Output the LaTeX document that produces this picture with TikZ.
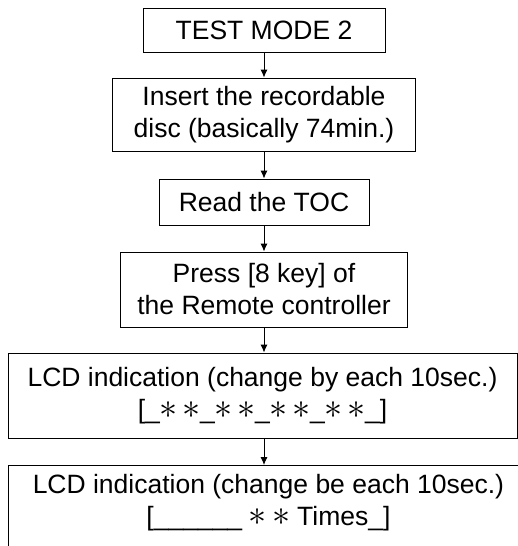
\documentclass[tikz,border=0pt]{standalone}
\usepackage{fontspec}
\setmainfont{Liberation Sans}
\usetikzlibrary{arrows.meta, positioning}

\newcommand{\lcdast}{\makebox[0.62em]{\scalebox{1.45}{$\ast$}}}

\begin{document}
\begin{tikzpicture}[x=1pt, y=-1pt,
	stepbox/.style={rectangle, draw, line width=0.9pt, align=center, inner sep=0pt, font=\fontsize{26.5}{32}\selectfont},
	conn/.style={line width=0.9pt, -{Latex[length=8pt, width=7pt]}},
]
	\useasboundingbox (0,0) rectangle (518,546);
	\clip (0,0) rectangle (518,546);

	% Test mode (top)
	\node[stepbox, minimum width=242pt, minimum height=44pt] (mode) at (264,30) {TEST MODE 2};

	% Insert disc
	\node[stepbox, minimum width=303pt, minimum height=73pt] (disc) at (264,114.5) {
		Insert the recordable\\
		disc (basically 74min.)
	};

	% TOC
	\node[stepbox, minimum width=210pt, minimum height=46pt] (toc) at (264,202) {Read the TOC};

	% Remote controller key
	\node[stepbox, minimum width=287pt, minimum height=75pt] (key) at (264,289.5) {
		Press [8 key] of\\
		the Remote controller
	};

	% LCD indication (first)
	\node[stepbox, minimum width=509pt, minimum height=85pt] (lcda) at (262.5,395.5) {
		LCD indication (change by each 10sec.)\\
		{[}\_\lcdast\ \lcdast\_\lcdast\ \lcdast\_\lcdast\ \lcdast\_\lcdast\ \lcdast\_]
	};

	% LCD indication (second, runs off the page)
	\node[stepbox, anchor=north west, minimum width=520pt, inner ysep=9pt, text depth=60pt] (lcdb) at (8,465) {
		LCD indication (change be each 10sec.)\\
		{[}\_\_\_\_\_\_\ \lcdast\ \lcdast\ Times\_]
	};

	% Arrows
	\draw[conn] (mode.south) -- (disc.north);
	\draw[conn] (disc.south) -- (toc.north);
	\draw[conn] (toc.south) -- (key.north);
	\draw[conn] (key.south) -- (key.south |- lcda.north);
	\draw[conn] (lcda.south -| key.south) -- (key.south |- lcdb.north);

\end{tikzpicture}
\end{document}
